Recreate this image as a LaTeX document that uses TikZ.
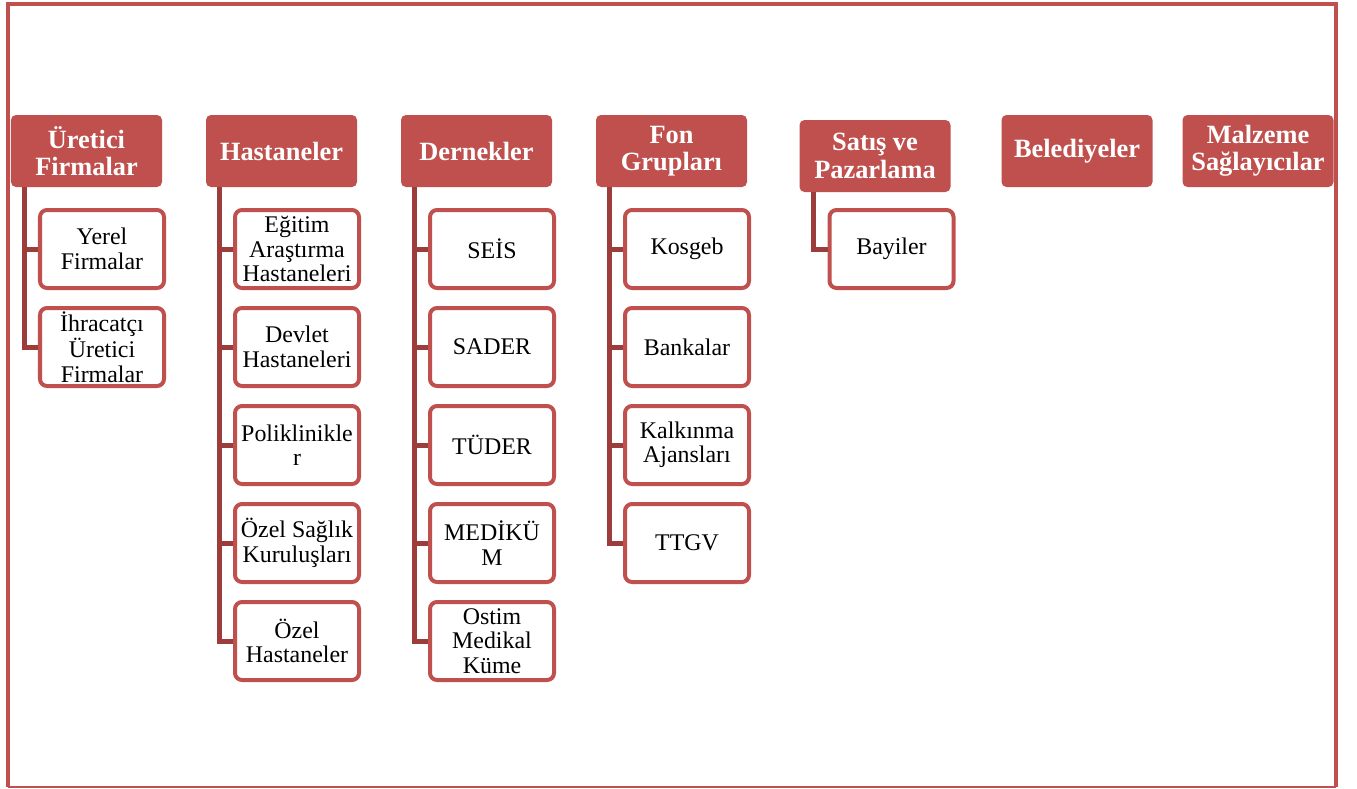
\documentclass[tikz,border=0pt]{standalone}
\usepackage{fontspec}
\setmainfont{Liberation Serif}
\usetikzlibrary{positioning}
\definecolor{BrickRed}{HTML}{C0504D}
\definecolor{DarkBrick}{HTML}{9C3D3B}

\begin{document}
\begin{tikzpicture}[
  node distance=0.32cm,
  head/.style={fill=BrickRed,rounded corners=0.1cm,minimum width=3.02cm,minimum height=1.44cm,inner sep=0pt,outer sep=0pt,align=center,text=white,font=\bfseries\fontsize{15}{15.6}\selectfont},
  item/.style={draw=BrickRed,line width=0.08cm,fill=white,rounded corners=0.14cm,minimum width=2.48cm,minimum height=1.56cm,inner sep=0pt,align=center,font=\fontsize{13.6}{13.9}\selectfont},
  link/.style={line width=0.1cm,color=DarkBrick}
]
\useasboundingbox (0,0) rectangle (27.14,-15.76);
% frame
\draw[BrickRed,line width=0.08cm] (0.16,-15.74) -- (0.16,-0.07) -- (26.72,-0.07) -- (26.72,-15.74);
\draw[BrickRed,line width=0.03cm] (0.16,-15.74) -- (26.72,-15.74);

% group headers
\node[head] (uretici) at (1.73,-3.02) {Üretici\\Firmalar};
\node[head] (hastane) at (5.63,-3.02) {Hastaneler};
\node[head] (dernek) at (9.53,-3.02) {Dernekler};
\node[head] (fon) at (13.43,-3.02) {Fon\\Grupları};
\node[head] (satis) at (17.5,-3.12) {Satış ve\\Pazarlama};
\node[head] (belediye) at (21.54,-3.02) {Belediyeler};
\node[head] (malzeme) at (25.16,-3.02) {Malzeme\\Sağlayıcılar};

% Üretici Firmalar
\node[item,below=0.42cm of uretici.south west,anchor=north west,xshift=0.54cm] (yerel) {Yerel\\Firmalar};
\node[item,below=of yerel] (ihracat) {İhracatçı\\Üretici\\Firmalar};

% Hastaneler
\node[item,below=0.42cm of hastane.south west,anchor=north west,xshift=0.54cm] (egitim) {Eğitim\\Araştırma\\Hastaneleri};
\node[item,below=of egitim] (devlet) {Devlet\\Hastaneleri};
\node[item,below=of devlet] (poli) {Poliklinikle\\r};
\node[item,below=of poli] (ozelsaglik) {Özel Sağlık\\Kuruluşları};
\node[item,below=of ozelsaglik] (ozelhast) {Özel\\Hastaneler};

% Dernekler
\node[item,below=0.42cm of dernek.south west,anchor=north west,xshift=0.54cm] (seis) {SEİS};
\node[item,below=of seis] (sader) {SADER};
\node[item,below=of sader] (tuder) {TÜDER};
\node[item,below=of tuder] (medikum) {MEDİKÜ\\M};
\node[item,below=of medikum] (ostim) {Ostim\\Medikal\\Küme};

% Fon Grupları
\node[item,below=0.42cm of fon.south west,anchor=north west,xshift=0.54cm] (kosgeb) {Kosgeb};
\node[item,below=of kosgeb] (banka) {Bankalar};
\node[item,below=of banka] (kalkinma) {Kalkınma\\Ajansları};
\node[item,below=of kalkinma] (ttgv) {TTGV};

% Satış ve Pazarlama
\node[item,below=0.32cm of satis.south west,anchor=north west,xshift=0.56cm] (bayi) {Bayiler};

% connectors
\draw[link] ([xshift=0.27cm]uretici.south west) |- (yerel.west);
\draw[link] ([xshift=0.27cm]uretici.south west) |- (ihracat.west);
\draw[link] ([xshift=0.27cm]hastane.south west) |- (egitim.west);
\draw[link] ([xshift=0.27cm]hastane.south west) |- (devlet.west);
\draw[link] ([xshift=0.27cm]hastane.south west) |- (poli.west);
\draw[link] ([xshift=0.27cm]hastane.south west) |- (ozelsaglik.west);
\draw[link] ([xshift=0.27cm]hastane.south west) |- (ozelhast.west);
\draw[link] ([xshift=0.27cm]dernek.south west) |- (seis.west);
\draw[link] ([xshift=0.27cm]dernek.south west) |- (sader.west);
\draw[link] ([xshift=0.27cm]dernek.south west) |- (tuder.west);
\draw[link] ([xshift=0.27cm]dernek.south west) |- (medikum.west);
\draw[link] ([xshift=0.27cm]dernek.south west) |- (ostim.west);
\draw[link] ([xshift=0.27cm]fon.south west) |- (kosgeb.west);
\draw[link] ([xshift=0.27cm]fon.south west) |- (banka.west);
\draw[link] ([xshift=0.27cm]fon.south west) |- (kalkinma.west);
\draw[link] ([xshift=0.27cm]fon.south west) |- (ttgv.west);
\draw[link] ([xshift=0.27cm]satis.south west) |- (bayi.west);
\end{tikzpicture}
\end{document}
